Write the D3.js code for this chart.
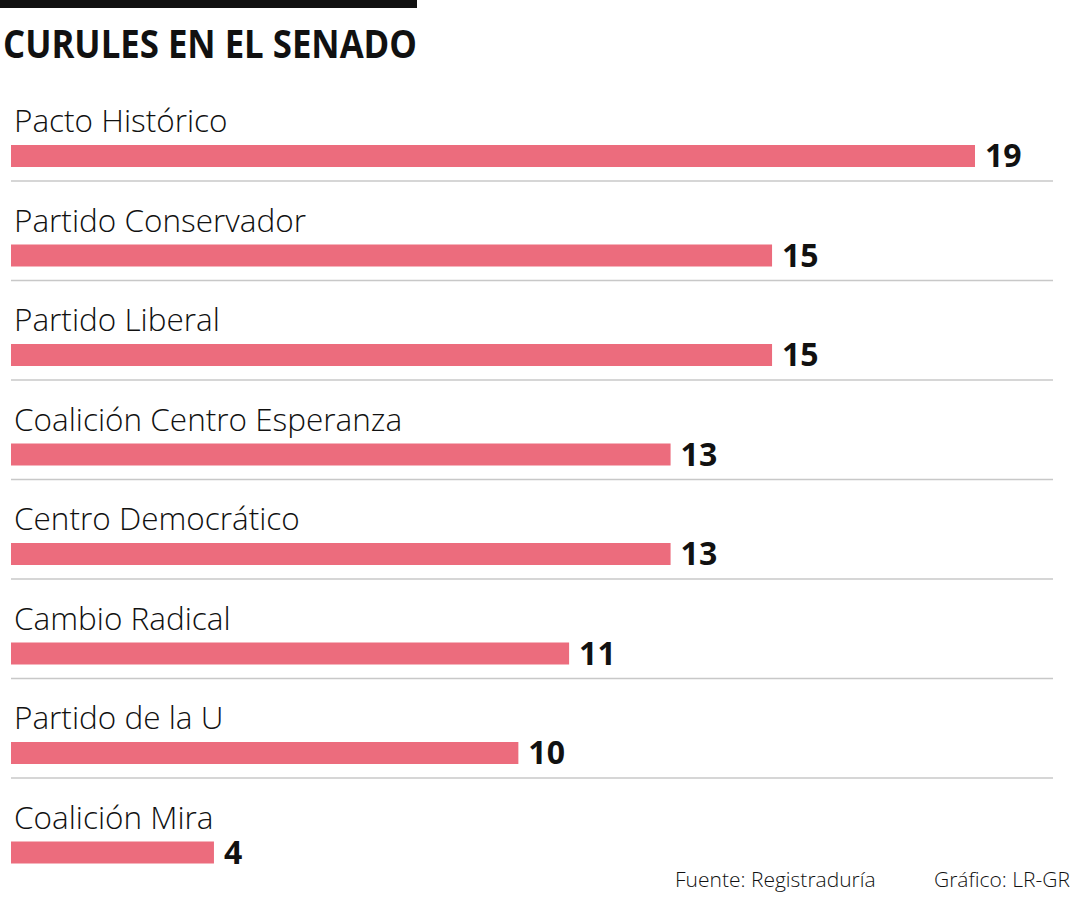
<!DOCTYPE html>
<html><head><meta charset="utf-8">
<script src="https://cdn.jsdelivr.net/npm/d3@7"></script>
<style>body{margin:0;background:#fff}svg{display:block}</style>
</head><body>
<script>
const categories = ["Pacto Histórico","Partido Conservador","Partido Liberal","Coalición Centro Esperanza","Centro Democrático","Cambio Radical","Partido de la U","Coalición Mira"];
const values = [19,15,15,13,13,11,10,4];
const title = "CURULES EN EL SENADO";
const source = "Fuente: Registraduría";
const credit = "Gráfico: LR-GR";

const W = 1080, H = 900;
const svg = d3.select("body").append("svg").attr("width", W).attr("height", H);
const font = "'Open Sans', 'Noto Sans', sans-serif";

svg.append("rect").attr("x",0).attr("y",0).attr("width",417).attr("height",8).attr("fill","#111");
svg.append("text").attr("x",3).attr("y",58).text(title)
  .attr("font-family",font).attr("font-weight",700).attr("font-size",39)
  .attr("textLength",414).attr("lengthAdjust","spacingAndGlyphs").attr("fill","#111");

const x = d3.scaleLinear().domain([0,19]).range([11,975]);
const y = d3.scaleBand().domain(categories).range([95,891]).paddingInner(0).paddingOuter(0);

const g = svg.append("g");
const rows = g.selectAll("g.row").data(categories).join("g").attr("class","row")
  .attr("transform", d => `translate(0,${y(d)})`);

rows.append("text").attr("x",14).attr("y",37).text(d=>d)
  .attr("font-family",font).attr("font-weight",300).attr("font-size",31.5).attr("fill","#111");

rows.append("rect").attr("x",x(0)).attr("y",50)
  .attr("width",(d,i)=>x(values[i])-x(0)).attr("height",22).attr("fill","#ec6c7d");

rows.append("text").attr("x",(d,i)=>x(values[i])+10).attr("y",72)
  .text((d,i)=>values[i]).attr("font-family",font).attr("font-weight",700)
  .attr("font-size",32).attr("fill","#111");

rows.filter((d,i)=>i<categories.length-1).append("line")
  .attr("x1",11).attr("x2",1053).attr("y1",86).attr("y2",86)
  .attr("stroke","#c8c8c8").attr("stroke-width",1.5);

svg.append("text").attr("x",675).attr("y",887).text(source)
  .attr("font-family",font).attr("font-weight",300).attr("font-size",21).attr("fill","#111");
svg.append("text").attr("x",934).attr("y",887).text(credit)
  .attr("font-family",font).attr("font-weight",300).attr("font-size",21).attr("fill","#111");
</script>
</body></html>
